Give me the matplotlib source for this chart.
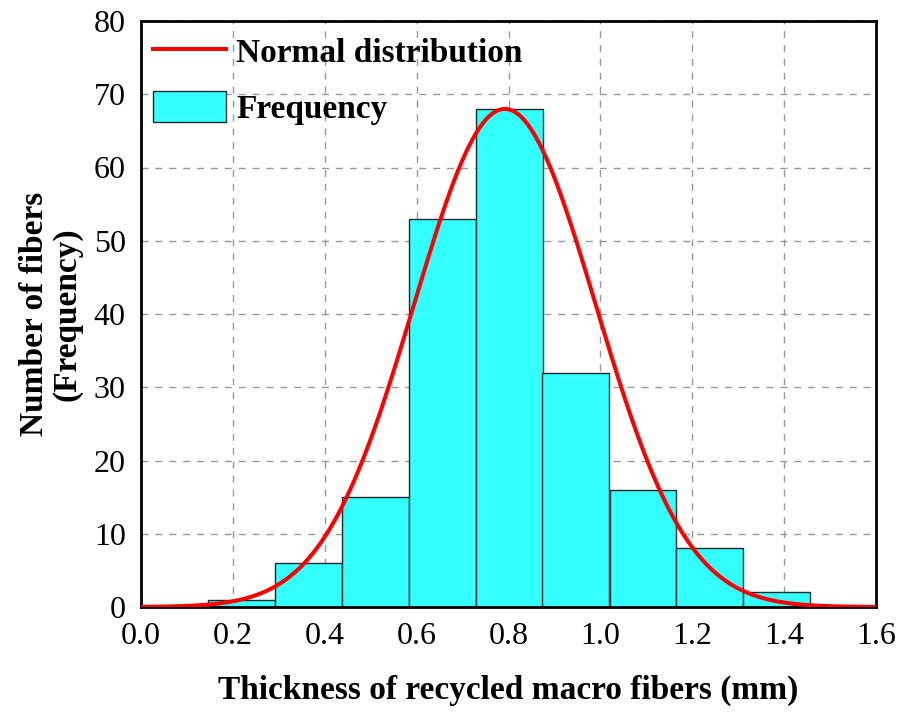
import numpy as np
import matplotlib
matplotlib.use("Agg")
import matplotlib.pyplot as plt

plt.rcParams['font.family'] = ['Liberation Serif', 'DejaVu Serif']

bin_left = [0.146, 0.292, 0.438, 0.584, 0.729, 0.874, 1.020, 1.165, 1.311]
bin_width = 0.1455
counts = [1, 6, 15, 53, 68, 32, 16, 8, 2]

mu = 0.792
sigma = 0.198
peak = 68

xticks = [0.0, 0.2, 0.4, 0.6, 0.8, 1.0, 1.2, 1.4, 1.6]
yticks = [0, 10, 20, 30, 40, 50, 60, 70, 80]

fig = plt.figure(figsize=(9.02, 7.17), dpi=100)
ax = fig.add_axes([141/902, 1-607/717, (876-141)/902, (607-21)/717])

bars = ax.bar(bin_left, counts, width=bin_width, align='edge', color='#33FFFF',
              edgecolor='#1a2a2a', linewidth=1.0, label='Frequency', zorder=2)
xs = np.linspace(0, 1.6, 400)
ys = peak * np.exp(-(xs - mu) ** 2 / (2 * sigma ** 2))
line, = ax.plot(xs, ys, color='#FF0000', linewidth=2.9, label='Normal distribution', zorder=3)

ax.set_xlim(0, 1.6)
ax.set_ylim(0, 80)
ax.set_xticks(xticks)
ax.set_yticks(yticks)
ax.set_xticklabels([f"{v:.1f}" for v in xticks])
ax.grid(True, linestyle=(0, (5, 5)), color='#999999', linewidth=1.0, zorder=0)
ax.set_axisbelow(True)
ax.tick_params(axis='both', length=0, labelsize=23, colors='black')
ax.tick_params(axis='x', pad=11)
ax.tick_params(axis='y', pad=11)
for s in ax.spines.values():
    s.set_linewidth(2)
    s.set_color('black')

ax.set_xlabel('Thickness of recycled macro fibers (mm)', fontsize=24,
              fontweight='bold', labelpad=17)
ax.set_ylabel('Number of fibers\n(Frequency)', fontsize=24,
              fontweight='bold', labelpad=8, linespacing=1.05)

leg = ax.legend([line, bars], ['Normal distribution', 'Frequency'],
                loc='upper left', bbox_to_anchor=(0.0163, 0.975), frameon=False,
                prop={'weight': 'bold', 'size': 24}, handlelength=2.2,
                handleheight=1.05, handletextpad=0.3, labelspacing=0.65,
                borderaxespad=0, borderpad=0)

fig.savefig('out.png', dpi=100)
